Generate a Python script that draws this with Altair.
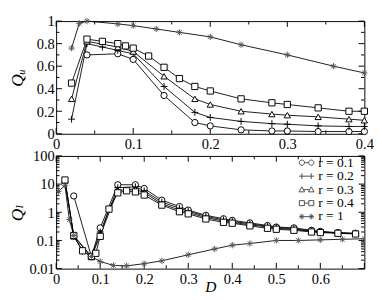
import altair as alt
import pandas as pd

SERIES = ["r = 0.1", "r = 0.2", "r = 0.3", "r = 0.4", "r = 1"]

# ---------------- top panel: Q_u vs D ----------------
Du_01 = [0.04, 0.08, 0.10, 0.14, 0.18, 0.20, 0.24, 0.28, 0.30, 0.34, 0.38, 0.40]
Qu_01 = [0.70, 0.71, 0.66, 0.34, 0.10, 0.07, 0.035, 0.025, 0.025, 0.02, 0.02, 0.02]
Du_02 = [0.02, 0.04, 0.06, 0.08, 0.10, 0.14, 0.18, 0.20, 0.24, 0.28, 0.30, 0.34, 0.38, 0.40]
Qu_02 = [0.13, 0.80, 0.77, 0.74, 0.71, 0.42, 0.19, 0.145, 0.11, 0.09, 0.085, 0.07, 0.065, 0.065]
Du_03 = [0.02, 0.04, 0.08, 0.10, 0.14, 0.18, 0.20, 0.24, 0.28, 0.30, 0.34, 0.38, 0.40]
Qu_03 = [0.31, 0.82, 0.77, 0.73, 0.51, 0.31, 0.26, 0.20, 0.175, 0.165, 0.15, 0.13, 0.12]
Du_04 = [0.02, 0.04, 0.06, 0.08, 0.09, 0.10, 0.12, 0.14, 0.16, 0.18, 0.20, 0.24, 0.28, 0.30, 0.34, 0.38, 0.40]
Qu_04 = [0.45, 0.84, 0.82, 0.80, 0.78, 0.76, 0.69, 0.59, 0.49, 0.42, 0.38, 0.31, 0.275, 0.26, 0.23, 0.20, 0.20]
Du_1 = [0.02, 0.03, 0.04, 0.08, 0.10, 0.13, 0.16, 0.20, 0.24, 0.30, 0.36, 0.40]
Qu_1 = [0.76, 0.98, 1.0, 0.975, 0.96, 0.93, 0.90, 0.86, 0.79, 0.70, 0.60, 0.54]

# ---------------- bottom panel: Q_l vs D ----------------
Dl_01 = [0.04, 0.08, 0.10, 0.14, 0.18, 0.20, 0.24, 0.28, 0.30, 0.34, 0.38, 0.40,
         0.44, 0.48, 0.50, 0.54, 0.58, 0.60, 0.64, 0.68]
Ql_01 = [3.8, 0.027, 0.28, 9.5, 9.5, 7.0, 2.7, 1.6, 1.2, 0.78, 0.59, 0.52,
         0.42, 0.34, 0.30, 0.28, 0.23, 0.21, 0.19, 0.18]
Dl_02 = [0.02, 0.04, 0.06, 0.08, 0.10, 0.14, 0.18, 0.20, 0.24, 0.28, 0.30, 0.34,
         0.38, 0.40, 0.44, 0.48, 0.50, 0.54, 0.58, 0.60, 0.64, 0.68]
Ql_02 = [13.0, 0.14, 0.042, 0.026, 0.20, 7.5, 8.0, 5.8, 2.3, 1.4, 1.1, 0.72,
         0.54, 0.48, 0.39, 0.32, 0.29, 0.26, 0.22, 0.20, 0.185, 0.175]
Dl_03 = [0.02, 0.04, 0.08, 0.10, 0.14, 0.18, 0.20, 0.24, 0.28, 0.30, 0.34, 0.38,
         0.40, 0.44, 0.48, 0.50, 0.54, 0.58, 0.60, 0.64, 0.68]
Ql_03 = [13.5, 0.14, 0.026, 0.15, 6.0, 6.5, 5.0, 2.0, 1.2, 0.98, 0.65, 0.49,
         0.44, 0.36, 0.30, 0.27, 0.245, 0.21, 0.20, 0.185, 0.175]
Dl_04 = [0.02, 0.04, 0.06, 0.08, 0.09, 0.10, 0.12, 0.14, 0.16, 0.18, 0.20, 0.24,
         0.28, 0.30, 0.34, 0.38, 0.40, 0.44, 0.48, 0.50, 0.54, 0.58, 0.60, 0.64, 0.68]
Ql_04 = [14.0, 0.15, 0.043, 0.027, 0.035, 0.14, 1.3, 4.9, 5.8, 5.3, 4.1, 1.8,
         1.05, 0.88, 0.58, 0.44, 0.41, 0.33, 0.27, 0.25, 0.23, 0.20, 0.19, 0.18, 0.17]
Dl_1 = [0.005, 0.02, 0.03, 0.04, 0.08, 0.10, 0.13, 0.16, 0.20, 0.24, 0.30, 0.36,
        0.40, 0.44, 0.50, 0.55, 0.60, 0.65, 0.70]
Ql_1 = [5.5, 9.0, 0.55, 0.15, 0.027, 0.018, 0.013, 0.0125, 0.015, 0.019, 0.031, 0.05,
        0.068, 0.078, 0.10, 0.10, 0.105, 0.11, 0.115]

# axis tick values
TOP_X_MAJOR = [0, 0.1, 0.2, 0.3, 0.4]
TOP_X_MINOR = [0.05, 0.15, 0.25, 0.35]
TOP_Y_MAJOR = [0, 0.2, 0.4, 0.6, 0.8, 1]
TOP_Y_MINOR = [0.1, 0.3, 0.5, 0.7, 0.9]
BOT_X_LABELS = [0, 0.1, 0.2, 0.3, 0.4, 0.5, 0.6]
BOT_X_MAJOR = [0, 0.1, 0.2, 0.3, 0.4, 0.5, 0.6, 0.7]
BOT_X_MINOR = [0.05, 0.15, 0.25, 0.35, 0.45, 0.55, 0.65]
BOT_Y_MAJOR = [0.01, 0.1, 1, 10, 100]
BOT_Y_MINOR = [m * d for d in [0.01, 0.1, 1, 10] for m in range(2, 10)]

FONT = "Liberation Serif, DejaVu Serif, serif"
W, H = 320, 117

MARK_SHAPES = [
    "circle",
    "M0,-1.1L0,1.1M-1.1,0L1.1,0",
    "triangle-up",
    "square",
    "M0,-1L0,1M-1,0L1,0M-0.72,-0.72L0.72,0.72M-0.72,0.72L0.72,-0.72",
]
PAIR_CIRCLE = ("M-0.33,0A0.42,0.42 0 1,1 -1.17,0A0.42,0.42 0 1,1 -0.33,0Z"
               "M1.17,0A0.42,0.42 0 1,1 0.33,0A0.42,0.42 0 1,1 1.17,0Z"
               "M-0.33,0L0.33,0")
PAIR_PLUS = "M-1.2,0L1.2,0M-0.75,-0.45L-0.75,0.45M0.75,-0.45L0.75,0.45"
PAIR_TRIANGLE = ("M-0.75,-0.45L-1.2,0.35L-0.3,0.35Z"
                 "M0.75,-0.45L0.3,0.35L1.2,0.35Z"
                 "M-0.5,0L0.5,0")
PAIR_SQUARE = ("M-1.15,-0.4L-0.35,-0.4L-0.35,0.4L-1.15,0.4Z"
               "M0.35,-0.4L1.15,-0.4L1.15,0.4L0.35,0.4Z"
               "M-0.35,0L0.35,0")
PAIR_STAR = ("M-1.2,0L1.2,0M-0.75,-0.45L-0.75,0.45M0.75,-0.45L0.75,0.45"
             "M-1.07,-0.32L-0.43,0.32M-1.07,0.32L-0.43,-0.32"
             "M0.43,-0.32L1.07,0.32M0.43,0.32L1.07,-0.32")
PAIR_SHAPES = [PAIR_CIRCLE, PAIR_PLUS, PAIR_TRIANGLE, PAIR_SQUARE, PAIR_STAR]
STROKES = ["black", "black", "black", "black", "#555555"]


def long_df(pairs):
    frames = []
    for name, (ds, qs) in zip(SERIES, pairs):
        frames.append(pd.DataFrame({"D": ds, "Q": qs, "series": name}))
    return pd.concat(frames, ignore_index=True)


top_df = long_df([(Du_01, Qu_01), (Du_02, Qu_02), (Du_03, Qu_03), (Du_04, Qu_04), (Du_1, Qu_1)])
bot_df = long_df([(Dl_01, Ql_01), (Dl_02, Ql_02), (Dl_03, Ql_03), (Dl_04, Ql_04), (Dl_1, Ql_1)])
legend_df = pd.DataFrame({"series": SERIES})


def tick_layers(xenc_fn, yenc_fn, xmaj, xmin, ymaj, ymin):
    layers = []
    for vals, ln in [(xmaj, 6), (xmin, 3.5)]:
        d = pd.DataFrame({"D": vals})
        layers.append(alt.Chart(d).mark_rule(color="black", strokeWidth=1).encode(
            x=xenc_fn(), y=alt.value(H), y2=alt.value(H - ln)))
        layers.append(alt.Chart(d).mark_rule(color="black", strokeWidth=1).encode(
            x=xenc_fn(), y=alt.value(0), y2=alt.value(ln)))
    for vals, ln in [(ymaj, 6), (ymin, 3.5)]:
        d = pd.DataFrame({"Q": vals})
        layers.append(alt.Chart(d).mark_rule(color="black", strokeWidth=1).encode(
            y=yenc_fn(), x=alt.value(0), x2=alt.value(ln)))
        layers.append(alt.Chart(d).mark_rule(color="black", strokeWidth=1).encode(
            y=yenc_fn(), x=alt.value(W), x2=alt.value(W - ln)))
    return layers


# ---------- encodings ----------
def top_x():
    return alt.X("D:Q", scale=alt.Scale(domain=[0, 0.4], nice=False, zero=False),
                 axis=alt.Axis(values=TOP_X_MAJOR, format="~g", title=None))


def top_y():
    return alt.Y("Q:Q", scale=alt.Scale(domain=[0, 1], nice=False, zero=False),
                 axis=alt.Axis(values=TOP_Y_MAJOR, format="~g", title="Qᵤ",
                               titleX=-31, labelPadding=2))


def bot_x():
    return alt.X("D:Q", scale=alt.Scale(domain=[0, 0.7], nice=False, zero=False),
                 axis=alt.Axis(values=BOT_X_LABELS, format="~g", title="D",
                               titleFontStyle="italic", titleFontSize=16,
                               titleY=24, titleBaseline="alphabetic"))


def bot_y():
    return alt.Y("Q:Q", scale=alt.Scale(type="log", domain=[0.01, 100], nice=False),
                 axis=alt.Axis(values=BOT_Y_MAJOR, format="~g", title="Qₗ",
                               titleX=-31, labelPadding=2))


def shape_enc(rng, legend=None):
    return alt.Shape("series:N", scale=alt.Scale(domain=SERIES, range=rng), legend=legend)


stroke_enc = alt.Stroke("series:N", scale=alt.Scale(domain=SERIES, range=STROKES), legend=None)

top_lines = alt.Chart(top_df).mark_line(color="black", strokeWidth=0.9).encode(
    x=top_x(), y=top_y(), detail="series:N")
top_points = alt.Chart(top_df).mark_point(filled=True, fill="white", strokeWidth=1, size=42, opacity=1).encode(
    x=top_x(), y=top_y(), shape=shape_enc(MARK_SHAPES), stroke=stroke_enc)

top = alt.layer(
    *tick_layers(top_x, top_y, TOP_X_MAJOR, TOP_X_MINOR, TOP_Y_MAJOR, TOP_Y_MINOR),
    top_lines, top_points,
).properties(width=W, height=H)

bot_lines = alt.Chart(bot_df).mark_line(color="black", strokeWidth=0.9, clip=True).encode(
    x=bot_x(), y=bot_y(), detail="series:N")
bot_points = alt.Chart(bot_df).mark_point(filled=True, fill="white", strokeWidth=1, size=42, opacity=1,
                                         clip=True).encode(
    x=bot_x(), y=bot_y(), shape=shape_enc(MARK_SHAPES), stroke=stroke_enc)

# legend-only layer: its marks sit outside the plot (clipped); only its legend shows
legend_layer = alt.Chart(legend_df).mark_point(
    filled=False, color="black", strokeWidth=1, size=169, clip=True).encode(
    x=alt.value(-50), y=alt.value(-50),
    shape=shape_enc(PAIR_SHAPES, legend=alt.Legend(
        title=None, orient="none", legendX=253, legendY=0, symbolSize=169,
        direction="vertical", columns=1, symbolLimit=20, zindex=2,
        labelFont=FONT, labelFontSize=14, labelColor="black", labelOffset=5,
        rowPadding=0, padding=0, symbolStrokeWidth=1, symbolStrokeColor="black")))

bottom = alt.layer(
    *tick_layers(bot_x, bot_y, BOT_X_MAJOR, BOT_X_MINOR, BOT_Y_MAJOR, BOT_Y_MINOR),
    bot_lines, bot_points, legend_layer,
).resolve_scale(shape="independent").properties(width=W, height=H)

chart = alt.vconcat(top, bottom, spacing=23, bounds="flush").resolve_scale(
    shape="independent", stroke="independent"
).properties(
    padding={"left": 0, "top": 0, "right": 0, "bottom": 0},
).configure_view(stroke="black", strokeWidth=1).configure_axis(
    labelFont=FONT, labelFontSize=15, labelColor="black",
    titleFont=FONT, titleFontSize=18, titleFontStyle="italic", titleFontWeight="normal",
    titleColor="black", domain=False, ticks=False, grid=False,
    labelFlush=False, labelOverlap=False, labelPadding=3,
)

chart.save("out.html", embed_options={"renderer": "svg", "actions": False})
